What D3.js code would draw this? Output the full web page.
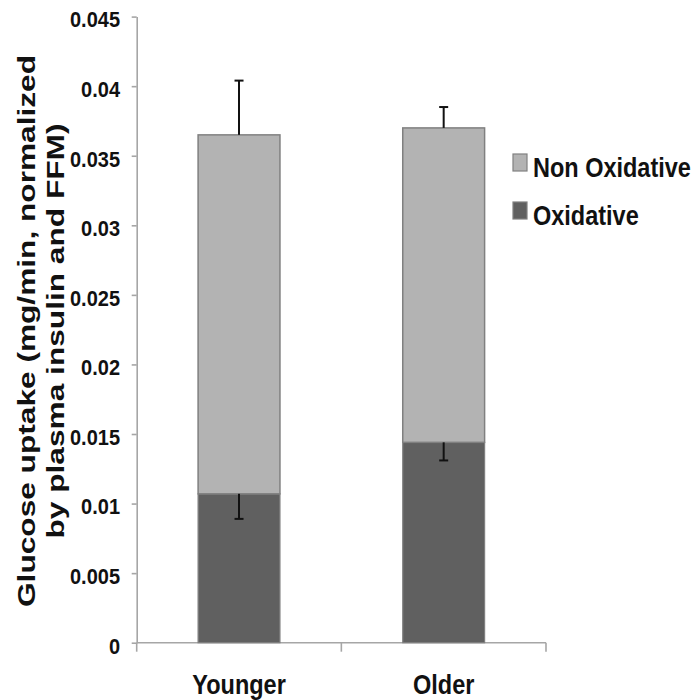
<!DOCTYPE html>
<html>
<head>
<meta charset="utf-8">
<script src="https://cdn.jsdelivr.net/npm/d3@7"></script>
<style>
  html, body { margin: 0; padding: 0; background: #ffffff; }
  svg { display: block; }
  text { font-family: "Liberation Sans", Arial, Helvetica, sans-serif; font-weight: bold; fill: #111111; }
</style>
</head>
<body>
<script>
// Glucose uptake split into oxidative and non-oxidative parts, by age group
const categories = ["Younger", "Older"];
const oxidative = [0.0107, 0.0144];
const nonOxidative = [0.0258, 0.0226];
const oxidativeErr = [0.0018, 0.0013];
const totalErr = [0.0039, 0.0015];
const yTickValues = [0, 0.005, 0.01, 0.015, 0.02, 0.025, 0.03, 0.035, 0.04, 0.045];
const yTickLabels = ["0", "0.005", "0.01", "0.015", "0.02", "0.025", "0.03", "0.035", "0.04", "0.045"];
const seriesNames = ["Non Oxidative", "Oxidative"];
const yTitleLines = ["Glucose uptake (mg/min, normalized", "by plasma insulin and FFM)"];

const W = 698, H = 700;
const plot = { left: 136.7, right: 546, top: 16.6, bottom: 642.7 };
const colors = { nonOx: "#b3b3b3", ox: "#606060", barStroke: "#808080", axis: "#a6a6a6" };

const svg = d3.select("body").append("svg").attr("width", W).attr("height", H);

const x = d3.scaleBand().domain(categories).range([plot.left, plot.right]).padding(0);
const y = d3.scaleLinear().domain([0, 0.045]).range([plot.bottom, plot.top]);
const barW = x.bandwidth() * 0.4;

const rows = categories.map((c, i) => ({
  cat: c,
  ox: oxidative[i],
  non: nonOxidative[i],
  total: oxidative[i] + nonOxidative[i],
  oxErr: oxidativeErr[i],
  totErr: totalErr[i]
}));

// Axes
const yAxis = d3.axisLeft(y).tickValues(yTickValues)
  .tickFormat((d, i) => yTickLabels[i]).tickSizeInner(5).tickSizeOuter(0).tickPadding(11.7);
const gy = svg.append("g").attr("transform", `translate(${plot.left},0)`).call(yAxis);
gy.select(".domain").attr("stroke", colors.axis).attr("stroke-width", 1.6);
gy.selectAll(".tick line").attr("stroke", colors.axis).attr("stroke-width", 1.6);
gy.selectAll(".tick text")
  .attr("dy", null).attr("y", 9.2)
  .attr("transform", "scale(1,1.12)")
  .style("font-size", "20px").attr("fill", "#111111");

// Bottom axis with ticks at band edges
const edges = [plot.left, ...categories.slice(1).map(c => x(c)), plot.right];
svg.append("line")
  .attr("x1", plot.left).attr("x2", plot.right)
  .attr("y1", y(0)).attr("y2", y(0))
  .attr("stroke", colors.axis).attr("stroke-width", 1.6);
svg.selectAll(".xtick").data(edges).enter().append("line")
  .attr("x1", d => d).attr("x2", d => d)
  .attr("y1", y(0)).attr("y2", y(0) + 9)
  .attr("stroke", colors.axis).attr("stroke-width", 1.6);

svg.selectAll(".xlabel").data(categories).enter().append("text")
  .attr("transform", d => `translate(${x(d) + x.bandwidth() / 2},${y(0) + 51}) scale(1,1.2)`)
  .attr("text-anchor", "middle")
  .style("font-size", "23.5px")
  .text(d => d);

// Stacked bars
const bars = svg.append("g");
bars.selectAll(".ox").data(rows).enter().append("rect")
  .attr("x", d => x(d.cat) + (x.bandwidth() - barW) / 2)
  .attr("width", barW)
  .attr("y", d => y(d.ox))
  .attr("height", d => y(0) - y(d.ox))
  .attr("fill", colors.ox)
  .attr("stroke", colors.barStroke).attr("stroke-width", 1.2);
bars.selectAll(".non").data(rows).enter().append("rect")
  .attr("x", d => x(d.cat) + (x.bandwidth() - barW) / 2)
  .attr("width", barW)
  .attr("y", d => y(d.total))
  .attr("height", d => y(d.ox) - y(d.total))
  .attr("fill", colors.nonOx)
  .attr("stroke", colors.barStroke).attr("stroke-width", 1.5);

// Error bars: upward on totals, downward on oxidative parts
const capW = 9;
const err = svg.append("g").attr("stroke", "#111111").attr("stroke-width", 2);
rows.forEach(d => {
  const cx = x(d.cat) + x.bandwidth() / 2;
  const segs = [
    [d.total, d.total + d.totErr],
    [d.ox, d.ox - d.oxErr]
  ];
  segs.forEach(([from, to]) => {
    err.append("line").attr("x1", cx).attr("x2", cx).attr("y1", y(from)).attr("y2", y(to));
    err.append("line").attr("x1", cx - capW / 2).attr("x2", cx + capW / 2).attr("y1", y(to)).attr("y2", y(to));
  });
});

// Y axis title
const titleG = svg.append("g").attr("transform", `translate(0,331)`);
[35, 64].forEach((bx, i) => {
  titleG.append("text")
    .attr("transform", `translate(${bx},0) rotate(-90)`)
    .attr("text-anchor", "middle")
    .attr("textLength", i === 0 ? 552 : 415)
    .attr("lengthAdjust", "spacingAndGlyphs")
    .style("font-size", "23.5px")
    .text(yTitleLines[i]);
});

// Legend
const legend = svg.append("g");
const legendFill = [colors.nonOx, colors.ox];
const legendBase = [177, 225];
seriesNames.forEach((name, i) => {
  legend.append("rect")
    .attr("x", 513).attr("y", legendBase[i] - 23)
    .attr("width", 14).attr("height", 17)
    .attr("fill", legendFill[i])
    .attr("stroke", colors.barStroke).attr("stroke-width", 1.2);
  legend.append("text")
    .attr("transform", `translate(533,${legendBase[i]}) scale(1,1.2)`)
    .style("font-size", "23.5px")
    .text(name);
});
</script>
</body>
</html>
